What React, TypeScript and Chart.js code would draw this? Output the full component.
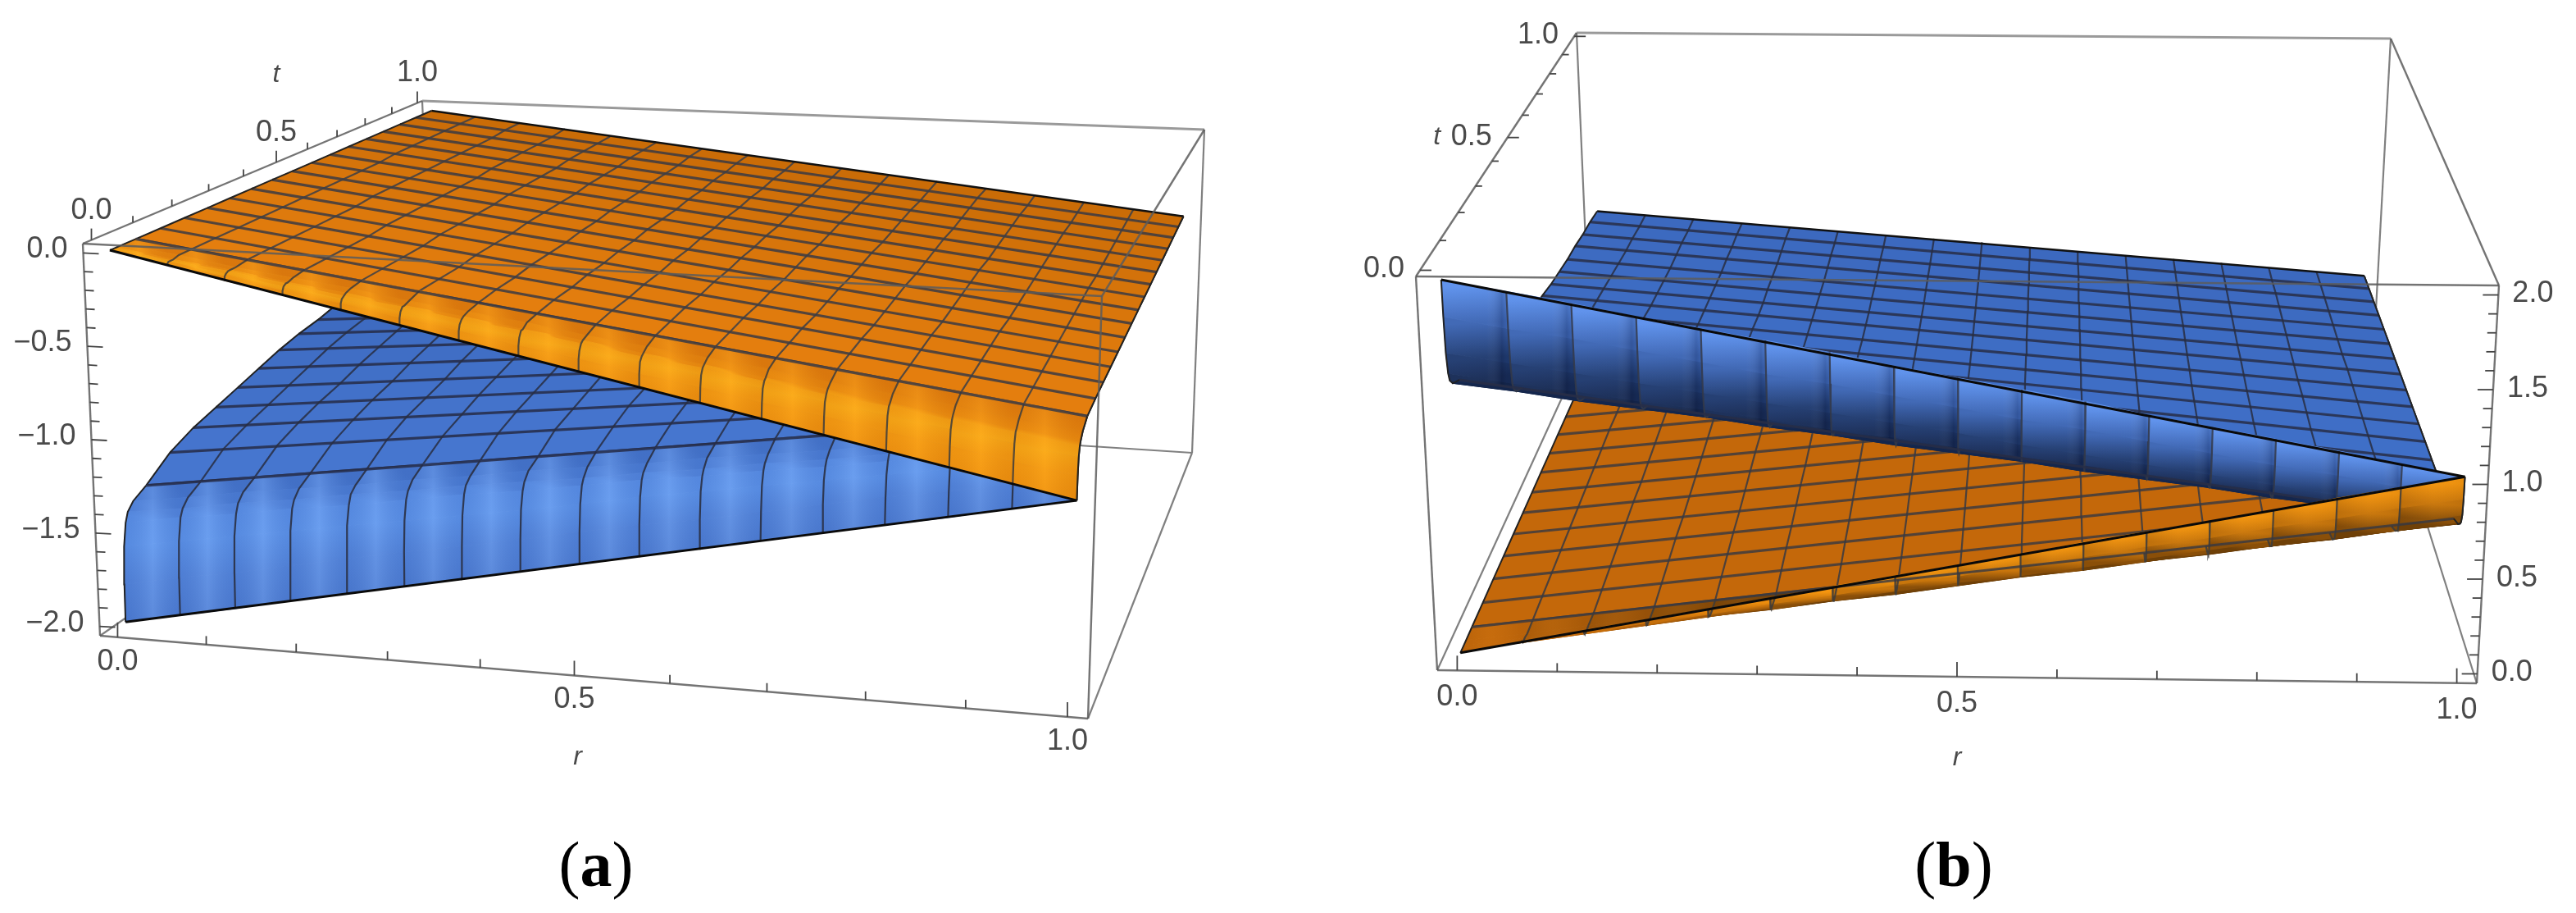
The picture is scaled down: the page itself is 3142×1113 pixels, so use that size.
import React, { useEffect, useRef } from "react";
import { Chart, registerables } from "chart.js";

Chart.register(...registerables);

const W = 3142;
const H = 1113;

// parameter grids shared by the surfaces
const rValues = [0, .0625, .125, .1875, .25, .3125, .375, .4375, .5, .5625, .625, .6875, .75, .8125, .875, .9375, 1];
const tValues = [0, .001, .004, .01, .016, .03, .0625, .125, .1875, .25, .3125, .375, .4375, .5, .5625, .625, .6875, .75, .8125, .875, .9375, 1];

// panel (a): upper surface (orange), one row per t value, one column per r value
const orangeA = [
  [0,-.06,-.13,-.19,-.25,-.31,-.38,-.44,-.5,-.56,-.63,-.69,-.75,-.81,-.88,-.94,-1],
  [0,-.06,-.11,-.17,-.22,-.28,-.33,-.39,-.44,-.5,-.55,-.61,-.66,-.72,-.77,-.83,-.88],
  [0,-.05,-.10,-.15,-.20,-.25,-.30,-.35,-.40,-.44,-.49,-.54,-.59,-.64,-.69,-.74,-.79],
  [0,-.05,-.09,-.14,-.19,-.23,-.28,-.32,-.37,-.42,-.46,-.51,-.56,-.60,-.65,-.69,-.74],
  [0,-.05,-.09,-.14,-.18,-.23,-.27,-.32,-.36,-.41,-.45,-.50,-.54,-.59,-.63,-.68,-.72],
  [0,-.04,-.09,-.13,-.17,-.22,-.26,-.30,-.35,-.39,-.43,-.47,-.52,-.56,-.60,-.65,-.69],
  [0,-.04,-.08,-.12,-.16,-.20,-.25,-.29,-.33,-.37,-.41,-.45,-.49,-.53,-.57,-.61,-.655],
  [0,-.04,-.08,-.12,-.16,-.20,-.24,-.28,-.32,-.36,-.40,-.44,-.48,-.52,-.56,-.60,-.64],
  [0,-.04,-.08,-.12,-.16,-.20,-.24,-.28,-.32,-.35,-.39,-.43,-.47,-.51,-.55,-.59,-.63],
  [0,-.04,-.08,-.12,-.16,-.19,-.23,-.27,-.31,-.35,-.39,-.43,-.47,-.50,-.54,-.58,-.62],
  [0,-.04,-.08,-.11,-.15,-.19,-.23,-.27,-.31,-.34,-.38,-.42,-.46,-.50,-.53,-.57,-.61],
  [0,-.04,-.08,-.11,-.15,-.19,-.23,-.26,-.30,-.34,-.38,-.41,-.45,-.49,-.53,-.56,-.60],
  [0,-.04,-.07,-.11,-.15,-.18,-.22,-.26,-.30,-.33,-.37,-.41,-.44,-.48,-.52,-.55,-.59],
  [0,-.04,-.07,-.11,-.15,-.18,-.22,-.25,-.29,-.33,-.36,-.40,-.44,-.47,-.51,-.54,-.58],
  [0,-.04,-.07,-.11,-.14,-.18,-.21,-.25,-.29,-.32,-.36,-.39,-.43,-.46,-.50,-.53,-.57],
  [0,-.04,-.07,-.11,-.14,-.18,-.21,-.25,-.28,-.32,-.35,-.39,-.42,-.46,-.49,-.53,-.56],
  [0,-.03,-.07,-.10,-.14,-.17,-.21,-.24,-.28,-.31,-.34,-.38,-.41,-.45,-.48,-.52,-.55],
  [0,-.03,-.07,-.10,-.14,-.17,-.20,-.24,-.27,-.30,-.34,-.37,-.41,-.44,-.47,-.51,-.54],
  [0,-.03,-.07,-.10,-.13,-.17,-.20,-.23,-.27,-.30,-.33,-.36,-.40,-.43,-.46,-.50,-.53],
  [0,-.03,-.07,-.10,-.13,-.16,-.20,-.23,-.26,-.29,-.33,-.36,-.39,-.42,-.46,-.49,-.52],
  [0,-.03,-.06,-.10,-.13,-.16,-.19,-.22,-.26,-.29,-.32,-.35,-.38,-.42,-.45,-.48,-.51],
  [0,-.03,-.06,-.09,-.13,-.16,-.19,-.22,-.25,-.28,-.31,-.34,-.38,-.41,-.44,-.47,-.50],
];

// panel (a): lower surface (blue)
const blueA = [
  [-2,-1.94,-1.88,-1.81,-1.75,-1.69,-1.63,-1.56,-1.5,-1.44,-1.38,-1.31,-1.25,-1.19,-1.13,-1.06,-1],
  [-1.8,-1.74,-1.69,-1.63,-1.57,-1.51,-1.46,-1.40,-1.34,-1.28,-1.23,-1.17,-1.11,-1.05,-1.0,-.94,-.88],
  [-1.6,-1.55,-1.5,-1.45,-1.4,-1.35,-1.30,-1.25,-1.2,-1.14,-1.09,-1.04,-.99,-.94,-.89,-.84,-.79],
  [-1.48,-1.43,-1.39,-1.34,-1.30,-1.25,-1.20,-1.16,-1.11,-1.06,-1.02,-.97,-.93,-.88,-.83,-.79,-.74],
  [-1.43,-1.39,-1.34,-1.30,-1.25,-1.21,-1.16,-1.12,-1.08,-1.03,-.99,-.94,-.90,-.85,-.81,-.76,-.72],
  [-1.39,-1.35,-1.30,-1.26,-1.22,-1.17,-1.13,-1.08,-1.04,-1.0,-.95,-.91,-.87,-.82,-.78,-.73,-.69],
  [-1.35,-1.31,-1.26,-1.22,-1.18,-1.13,-1.09,-1.05,-1.0,-.96,-.92,-.87,-.83,-.79,-.74,-.70,-.655],
  [-1.25,-1.21,-1.17,-1.14,-1.10,-1.06,-1.02,-.98,-.95,-.91,-.87,-.83,-.79,-.75,-.72,-.68,-.64],
  [-1.19,-1.16,-1.12,-1.09,-1.05,-1.02,-.98,-.95,-.91,-.88,-.84,-.81,-.77,-.74,-.70,-.67,-.63],
  [-1.15,-1.12,-1.08,-1.05,-1.02,-.98,-.95,-.92,-.89,-.85,-.82,-.79,-.75,-.72,-.69,-.65,-.62],
  [-1.11,-1.08,-1.05,-1.02,-.99,-.95,-.92,-.89,-.86,-.83,-.80,-.77,-.74,-.70,-.67,-.64,-.61],
  [-1.07,-1.04,-1.01,-.98,-.95,-.92,-.89,-.86,-.84,-.81,-.78,-.75,-.72,-.69,-.66,-.63,-.60],
  [-1.03,-1.0,-.98,-.95,-.92,-.89,-.87,-.84,-.81,-.78,-.76,-.73,-.70,-.67,-.65,-.62,-.59],
  [-1,-.97,-.95,-.92,-.90,-.87,-.84,-.82,-.79,-.76,-.74,-.71,-.69,-.66,-.63,-.61,-.58],
  [-.98,-.95,-.92,-.90,-.87,-.85,-.82,-.80,-.77,-.75,-.72,-.70,-.67,-.65,-.62,-.60,-.57],
  [-.95,-.93,-.90,-.88,-.85,-.83,-.80,-.78,-.76,-.73,-.71,-.68,-.66,-.63,-.61,-.58,-.56],
  [-.93,-.91,-.88,-.86,-.84,-.81,-.79,-.76,-.74,-.72,-.69,-.67,-.65,-.62,-.60,-.57,-.55],
  [-.91,-.89,-.86,-.84,-.82,-.79,-.77,-.75,-.73,-.70,-.68,-.66,-.63,-.61,-.59,-.56,-.54],
  [-.90,-.87,-.85,-.83,-.80,-.78,-.76,-.74,-.71,-.69,-.67,-.64,-.62,-.60,-.58,-.55,-.53],
  [-.88,-.86,-.84,-.81,-.79,-.77,-.75,-.72,-.70,-.68,-.66,-.63,-.61,-.59,-.57,-.54,-.52],
  [-.87,-.84,-.82,-.80,-.78,-.75,-.73,-.71,-.69,-.67,-.64,-.62,-.60,-.58,-.55,-.53,-.51],
  [-.85,-.83,-.81,-.78,-.76,-.74,-.72,-.70,-.68,-.65,-.63,-.61,-.59,-.57,-.54,-.52,-.50],
];

// panel (b): lower surface (orange)
const orangeB = [
  [0,.06,.13,.19,.25,.31,.38,.44,.5,.56,.63,.69,.75,.81,.88,.94,1],
  [0,.06,.11,.17,.22,.28,.33,.39,.44,.5,.55,.61,.66,.72,.77,.83,.88],
  [0,.05,.10,.15,.20,.25,.30,.35,.40,.44,.49,.54,.59,.64,.69,.74,.79],
  [0,.05,.09,.14,.19,.23,.28,.32,.37,.42,.46,.51,.56,.60,.65,.69,.74],
  [0,.05,.09,.14,.18,.23,.27,.32,.36,.41,.45,.50,.54,.59,.63,.68,.72],
  [0,.04,.09,.13,.17,.22,.26,.30,.35,.39,.43,.47,.52,.56,.60,.65,.69],
  [0,.04,.08,.12,.16,.20,.25,.29,.33,.37,.41,.45,.49,.53,.57,.61,.655],
  [0,.04,.08,.12,.16,.20,.24,.28,.32,.36,.40,.44,.48,.52,.56,.60,.64],
  [0,.04,.08,.12,.16,.20,.24,.28,.32,.35,.39,.43,.47,.51,.55,.59,.63],
  [0,.04,.08,.12,.16,.19,.23,.27,.31,.35,.39,.43,.47,.50,.54,.58,.62],
  [0,.04,.08,.11,.15,.19,.23,.27,.31,.34,.38,.42,.46,.50,.53,.57,.61],
  [0,.04,.08,.11,.15,.19,.23,.26,.30,.34,.38,.41,.45,.49,.53,.56,.60],
  [0,.04,.07,.11,.15,.18,.22,.26,.30,.33,.37,.41,.44,.48,.52,.55,.59],
  [0,.04,.07,.11,.15,.18,.22,.25,.29,.33,.36,.40,.44,.47,.51,.54,.58],
  [0,.04,.07,.11,.14,.18,.21,.25,.29,.32,.36,.39,.43,.46,.50,.53,.57],
  [0,.04,.07,.11,.14,.18,.21,.25,.28,.32,.35,.39,.42,.46,.49,.53,.56],
  [0,.03,.07,.10,.14,.17,.21,.24,.28,.31,.34,.38,.41,.45,.48,.52,.55],
  [0,.03,.07,.10,.14,.17,.20,.24,.27,.30,.34,.37,.41,.44,.47,.51,.54],
  [0,.03,.07,.10,.13,.17,.20,.23,.27,.30,.33,.36,.40,.43,.46,.50,.53],
  [0,.03,.07,.10,.13,.16,.20,.23,.26,.29,.33,.36,.39,.42,.46,.49,.52],
  [0,.03,.06,.10,.13,.16,.19,.22,.26,.29,.32,.35,.38,.42,.45,.48,.51],
  [0,.03,.06,.09,.13,.16,.19,.22,.25,.28,.31,.34,.38,.41,.44,.47,.50],
];

// panel (b): upper surface (blue)
const blueB = [
  [2,1.94,1.88,1.81,1.75,1.69,1.63,1.56,1.5,1.44,1.38,1.31,1.25,1.19,1.13,1.06,1],
  [1.8,1.74,1.69,1.63,1.57,1.51,1.46,1.40,1.34,1.28,1.23,1.17,1.11,1.05,1.0,.94,.88],
  [1.6,1.55,1.5,1.45,1.4,1.35,1.30,1.25,1.2,1.14,1.09,1.04,.99,.94,.89,.84,.79],
  [1.48,1.43,1.39,1.34,1.30,1.25,1.20,1.16,1.11,1.06,1.02,.97,.93,.88,.83,.79,.74],
  [1.43,1.39,1.34,1.30,1.25,1.21,1.16,1.12,1.08,1.03,.99,.94,.90,.85,.81,.76,.72],
  [1.39,1.35,1.30,1.26,1.22,1.17,1.13,1.08,1.04,1.0,.95,.91,.87,.82,.78,.73,.69],
  [1.35,1.31,1.26,1.22,1.18,1.13,1.09,1.05,1.0,.96,.92,.87,.83,.79,.74,.70,.655],
  [1.25,1.21,1.17,1.14,1.10,1.06,1.02,.98,.95,.91,.87,.83,.79,.75,.72,.68,.64],
  [1.19,1.16,1.12,1.09,1.05,1.02,.98,.95,.91,.88,.84,.81,.77,.74,.70,.67,.63],
  [1.15,1.12,1.08,1.05,1.02,.98,.95,.92,.89,.85,.82,.79,.75,.72,.69,.65,.62],
  [1.11,1.08,1.05,1.02,.99,.95,.92,.89,.86,.83,.80,.77,.74,.70,.67,.64,.61],
  [1.07,1.04,1.01,.98,.95,.92,.89,.86,.84,.81,.78,.75,.72,.69,.66,.63,.60],
  [1.03,1.0,.98,.95,.92,.89,.87,.84,.81,.78,.76,.73,.70,.67,.65,.62,.59],
  [1,.97,.95,.92,.90,.87,.84,.82,.79,.76,.74,.71,.69,.66,.63,.61,.58],
  [.98,.95,.92,.90,.87,.85,.82,.80,.77,.75,.72,.70,.67,.65,.62,.60,.57],
  [.95,.93,.90,.88,.85,.83,.80,.78,.76,.73,.71,.68,.66,.63,.61,.58,.56],
  [.93,.91,.88,.86,.84,.81,.79,.76,.74,.72,.69,.67,.65,.62,.60,.57,.55],
  [.91,.89,.86,.84,.82,.79,.77,.75,.73,.70,.68,.66,.63,.61,.59,.56,.54],
  [.90,.87,.85,.83,.80,.78,.76,.74,.71,.69,.67,.64,.62,.60,.58,.55,.53],
  [.88,.86,.84,.81,.79,.77,.75,.72,.70,.68,.66,.63,.61,.59,.57,.54,.52],
  [.87,.84,.82,.80,.78,.75,.73,.71,.69,.67,.64,.62,.60,.58,.55,.53,.51],
  [.85,.83,.81,.78,.76,.74,.72,.70,.68,.65,.63,.61,.59,.57,.54,.52,.50],
];

// axis ticks
const rTicks = [0, .1, .2, .3, .4, .5, .6, .7, .8, .9, 1];
const tTicks = [0, .1, .2, .3, .4, .5, .6, .7, .8, .9, 1];
const zTicksA = [0, -.1, -.2, -.3, -.4, -.5, -.6, -.7, -.8, -.9, -1, -1.1, -1.2, -1.3, -1.4, -1.5, -1.6, -1.7, -1.8, -1.9, -2];
const zTicksB = [0, .1, .2, .3, .4, .5, .6, .7, .8, .9, 1, 1.1, 1.2, 1.3, 1.4, 1.5, 1.6, 1.7, 1.8, 1.9, 2];
const rLabels = ["0.0", "0.5", "1.0"];
const rLabelValues = [0, .5, 1];
const tLabels = ["0.0", "0.5", "1.0"];
const tLabelValues = [0, .5, 1];
const zLabelsA = ["0.0", "\u22120.5", "\u22121.0", "\u22121.5", "\u22122.0"];
const zLabelValuesA = [0, -.5, -1, -1.5, -2];
const zLabelsB = ["0.0", "0.5", "1.0", "1.5", "2.0"];
const zLabelValuesB = [0, .5, 1, 1.5, 2];

type P = { x: number; y: number };
const WALL_ROWS = 6; // rows 0..6 form the steep fold next to t = 0
const LAST = tValues.length - 1;
const NC = rValues.length - 1;

const sceneA = {
  corners: { A: [122, 775], B: [1327, 876], C: [101, 297], F: [1344, 361], D: [515, 123], E: [1469, 158], H: [530, 492], G: [1454, 552] },
  qr: 1.083, qt: .754, zLow: -2.05, zHigh: .05,
};
const sceneB = {
  corners: { A: [1753, 817], B: [3021, 833], C: [1727, 337], F: [3048, 348], D: [1923, 40], E: [2916, 47], H: [1939, 411], G: [2895, 432] },
  qr: 1, qt: .754, zLow: -.05, zHigh: 2.05,
};

function projector(s: typeof sceneA) {
  const c = s.corners;
  return (r: number, t: number, z: number): P => {
    let u = (r + .02) / 1.04;
    let w = (t + .02) / 1.04;
    u = u / (u + (1 - u) * s.qr);
    w = w / (w + (1 - w) * s.qt);
    const v = (z - s.zLow) / (s.zHigh - s.zLow);
    const tri = (i: number) => {
      const lo = (1 - w) * ((1 - u) * c.A[i] + u * c.B[i]) + w * ((1 - u) * c.H[i] + u * c.G[i]);
      const hi = (1 - w) * ((1 - u) * c.C[i] + u * c.F[i]) + w * ((1 - u) * c.D[i] + u * c.E[i]);
      return (1 - v) * lo + v * hi;
    };
    return { x: tri(0), y: tri(1) };
  };
}

const lerpHex = (a: string, b: string, f: number) => {
  const ch = (h: string, i: number) => parseInt(h.slice(1 + i * 2, 3 + i * 2), 16);
  const out = [0, 1, 2].map((i) => Math.round(ch(a, i) + (ch(b, i) - ch(a, i)) * f));
  return `rgb(${out[0]},${out[1]},${out[2]})`;
};

const poly = (pts: P[], color: any) => ({
  data: [...pts, pts[0]], showLine: true, fill: "shape", backgroundColor: color, borderColor: color,
  borderWidth: 1, pointRadius: 0, clip: false,
});
const line = (pts: P[], color: string, width: number) => ({
  data: pts, showLine: true, fill: false, borderColor: color, backgroundColor: color,
  borderWidth: width, pointRadius: 0, clip: false,
});

type Style = {
  wall: string[]; backNear: string; backFar: string; stripes: [number, string][];
  meshT: string; meshR: string; meshWall: string; fadeCols?: number;
};

function surface(ctx: CanvasRenderingContext2D, proj: any, table: number[][], st: Style) {
  const P3 = (i: number, c: number) => proj(rValues[c], tValues[i], table[i][c]);
  const back: any[] = [];
  const wall: any[] = [];
  for (let i = LAST - 1; i >= WALL_ROWS; i--) {
    const col = lerpHex(st.backNear, st.backFar, (i - WALL_ROWS) / (LAST - 1 - WALL_ROWS));
    back.push(poly([P3(i, 0), P3(i, NC), P3(i + 1, NC), P3(i + 1, 0)], col));
  }
  for (let i = WALL_ROWS; i < LAST; i++) {
    back.push(line([P3(i, 0), P3(i, NC)], st.meshT, 3.2));
  }
  for (let c = 1; c < NC; c++) {
    const pts: P[] = [];
    for (let i = WALL_ROWS; i <= LAST; i++) pts.push(P3(i, c));
    back.push(line(pts, st.meshR, 2.2));
  }
  back.push(line([P3(LAST, 0), P3(LAST, NC)], "#111", 2.6));
  for (const c of [0, NC]) {
    const pts: P[] = [];
    for (let i = WALL_ROWS; i <= LAST; i++) pts.push(P3(i, c));
    back.push(line(pts, "#222", 2));
  }
  const wallColor = (i: number, c: number) => {
    if (!st.fadeCols) return st.wall[i];
    return lerpHex(st.backNear, st.wall[i], Math.min(1, c / st.fadeCols));
  };
  for (let i = WALL_ROWS - 1; i >= 0; i--) {
    for (let c = 0; c < NC; c++) {
      const a = P3(i, c), b = P3(i, c + 1), d = P3(i + 1, c + 1), e = P3(i + 1, c);
      const g = ctx.createLinearGradient((a.x + b.x) / 2, (a.y + b.y) / 2, (d.x + e.x) / 2, (d.y + e.y) / 2);
      g.addColorStop(0, wallColor(i, c));
      g.addColorStop(1, wallColor(i + 1, c));
      wall.push(poly([a, b, d, e], g));
    }
  }
  for (let c = 0; c < NC; c++) {
    const left: P[] = [];
    const right: P[] = [];
    for (let i = 0; i <= WALL_ROWS; i++) {
      left.push(P3(i, c));
      right.unshift(P3(i, c + 1));
    }
    const g = ctx.createLinearGradient(left[0].x, 0, right[right.length - 1].x, 0);
    st.stripes.forEach(([o, k]) => g.addColorStop(o, k));
    const o = poly([...left, ...right], g);
    o.borderWidth = 0;
    wall.push(o);
  }
  for (let c = 1; c < NC; c++) {
    const pts: P[] = [];
    for (let i = 0; i <= WALL_ROWS; i++) pts.push(P3(i, c));
    wall.push(line(pts, st.meshWall, 2.2));
  }
  wall.push(line([P3(WALL_ROWS, 0), P3(WALL_ROWS, NC)], st.meshT, 3.2));
  const rim0: P[] = [];
  const rim1: P[] = [];
  for (let i = 0; i <= WALL_ROWS; i++) {
    rim0.push(P3(i, 0));
    rim1.push(P3(i, NC));
  }
  wall.push(line(rim0, "#222", 2), line(rim1, "#222", 2));
  wall.push(line([P3(0, 0), P3(0, NC)], "#0a0a0a", 3));
  return { back, wall };
}

function frame(proj: any, s: typeof sceneA) {
  const z0 = s.zLow, z1 = s.zHigh, a = -.02, b = 1.02;
  const e = (p: number[], q: number[]) => [proj(p[0], p[1], p[2]), proj(q[0], q[1], q[2])];
  const A = [a, a, z0], B = [b, a, z0], C = [a, a, z1], F = [b, a, z1];
  const D = [a, b, z1], E = [b, b, z1], H = [a, b, z0], G = [b, b, z0];
  const backE = [e(D, E), e(E, G), e(G, H), e(H, A), e(H, D), e(G, B)];
  const frontE = [e(C, F), e(F, E), e(F, B), e(A, B), e(A, C), e(C, D)];
  return {
    back: backE.map((p, i) => line(p, i === 0 ? "#9a9a9a" : "#808080", i === 0 ? 3 : 2.2)),
    front: frontE.map((p) => line(p, "rgba(92,92,92,.85)", 2.4)),
  };
}

function ticks(proj: any, values: number[], at: (v: number) => number[], dir: number[], majorEvery: number) {
  return values.map((v, i) => {
    const q = at(v);
    const base = proj(q[0], q[1], q[2]);
    const len = i % majorEvery === 0 ? 1 : .58;
    return line([base, { x: base.x + dir[0] * len, y: base.y + dir[1] * len }], "#444", 1.8);
  });
}

type Lbl = { text: string; x: number; y: number; align: CanvasTextAlign; italic?: boolean };

function buildAll(ctx: CanvasRenderingContext2D) {
  const pa = projector(sceneA);
  const pb = projector(sceneB as any);
  const orangeTopA: Style = {
    wall: ["#f2920f", "#f79a12", "#fba716", "#f9a014", "#f08e10", "#ea860f", "#e47e0e"],
    backNear: "#e47e0e", backFar: "#ca6c07",
    stripes: [[0, "rgba(90,40,0,.06)"], [.5, "rgba(255,200,60,.14)"], [1, "rgba(90,40,0,.08)"]],
    meshT: "rgba(52,56,70,.82)", meshR: "rgba(60,62,70,.85)", meshWall: "rgba(60,60,60,.85)",
  };
  const blueTopA: Style = {
    wall: ["#4d7dd6", "#5385de", "#5c93ec", "#5a90ea", "#5386e0", "#4c7ed8", "#4676cf"],
    backNear: "#4676cf", backFar: "#3560b2",
    stripes: [[0, "rgba(20,40,90,.08)"], [.5, "rgba(180,215,255,.16)"], [1, "rgba(20,40,90,.08)"]],
    meshT: "rgba(38,44,70,.85)", meshR: "rgba(40,46,66,.85)", meshWall: "rgba(42,48,66,.9)",
  };
  const orangeTopB: Style = {
    wall: ["#f6960f", "#c9760c", "#8a4f09", "#6f4007", "#6a3c07", "#6a3c07", "#6a3c07"],
    backNear: "#c4680a", backFar: "#c4680a", fadeCols: 5,
    stripes: [[0, "rgba(0,0,0,.06)"], [.5, "rgba(255,200,80,.04)"], [1, "rgba(0,0,0,.06)"]],
    meshT: "rgba(54,56,66,.8)", meshR: "rgba(56,58,66,.85)", meshWall: "rgba(60,60,60,.85)",
  };
  const blueTopB: Style = {
    wall: ["#5c90ec", "#3c65b4", "#1f3a6f", "#172b56", "#14264c", "#14264c", "#14264c"],
    backNear: "#4070c9", backFar: "#3c69bf",
    stripes: [[0, "rgba(255,255,255,.03)"], [.7, "rgba(255,255,255,.03)"], [.93, "rgba(0,0,20,.16)"], [1, "rgba(0,0,20,.05)"]],
    meshT: "rgba(40,46,70,.85)", meshR: "rgba(40,46,66,.85)", meshWall: "rgba(52,56,70,.85)",
  };

  const fa = frame(pa, sceneA);
  const fb = frame(pb, sceneB as any);
  const sOA = surface(ctx, pa, orangeA, orangeTopA);
  const sBA = surface(ctx, pa, blueA, blueTopA);
  const sOB = surface(ctx, pb, orangeB, orangeTopB);
  const sBB = surface(ctx, pb, blueB, blueTopB);

  const tickSets = [
    ...ticks(pa, rTicks, (v) => [v, -.02, -2.05], [0, -18], 5),
    ...ticks(pa, tTicks, (v) => [-.02, v, .05], [0, -14], 5),
    ...ticks(pa, zTicksA, (v) => [-.02, -.02, v], [19, 1], 5),
    ...ticks(pb, rTicks, (v) => [v, -.02, -.05], [0, -18], 5),
    ...ticks(pb, tTicks, (v) => [-.02, v, 2.05], [14, 0], 5),
    ...ticks(pb, zTicksB, (v) => [1.02, -.02, v], [-19, 0], 5),
  ];

  const painted = [
    ...fa.back, ...fb.back,
    ...sBA.back, ...sBA.wall, ...sOA.back, ...sOA.wall,
    ...sOB.back, ...sBB.back, ...sBB.wall, ...sOB.wall,
    ...fa.front, ...fb.front, ...tickSets,
  ];

  const labels: Lbl[] = [];
  const add = (text: string, p: P, dx: number, dy: number, align: CanvasTextAlign, italic = false) =>
    labels.push({ text, x: p.x + dx, y: p.y + dy, align, italic });
  rLabels.forEach((s, i) => add(s, pa(rLabelValues[i], -.02, -2.05), 0, 30, "center"));
  tLabels.forEach((s, i) => add(s, pa(-.02, tLabelValues[i], .05), 0, -36, "center"));
  zLabelsA.forEach((s, i) => add(s, pa(-.02, -.02, zLabelValuesA[i]), -19, -4, "right"));
  add("r", pa(.5, -.02, -2.05), 4, 100, "center", true);
  add("t", pa(-.02, .5, .05), 0, -107, "center", true);
  rLabels.forEach((s, i) => add(s, pb(rLabelValues[i], -.02, -.05), 0, 33, "center"));
  tLabels.forEach((s, i) => add(s, pb(-.02, tLabelValues[i], 2.05), -19, -1, "right"));
  zLabelsB.forEach((s, i) => add(s, pb(1.02, -.02, zLabelValuesB[i]), 17, -1, "left"));
  add("r", pb(.5, -.02, -.05), 0, 99, "center", true);
  add("t", pb(-.02, .5, 2.05), -86, -1, "center", true);

  return { datasets: painted.reverse(), labels };
}

export default function App() {
  const ref = useRef<HTMLCanvasElement>(null);
  useEffect(() => {
    document.body.style.margin = "0";
    const canvas = ref.current!;
    const ctx = canvas.getContext("2d")!;
    const { datasets, labels } = buildAll(ctx);
    const textPlugin = {
      id: "axisText",
      afterDatasetsDraw(chart: any) {
        const c = chart.ctx;
        c.save();
        c.fillStyle = "#4a4a4a";
        c.textBaseline = "middle";
        labels.forEach((l) => {
          c.font = l.italic ? 'italic 32px "Liberation Sans"' : '36px "Liberation Sans"';
          c.textAlign = l.align;
          c.fillText(l.text, l.x, l.y);
        });
        c.restore();
      },
    };
    const chart = new Chart(canvas, {
      type: "scatter",
      data: { datasets: datasets as any },
      plugins: [textPlugin],
      options: {
        animation: false,
        responsive: false,
        devicePixelRatio: 1,
        events: [],
        layout: { padding: 0 },
        plugins: { legend: { display: false }, tooltip: { enabled: false }, title: { display: false } },
        scales: {
          x: { type: "linear", min: 0, max: W, display: false },
          y: { type: "linear", min: 0, max: H, reverse: true, display: false },
        },
      } as any,
    });
    return () => chart.destroy();
  }, []);
  const caption: React.CSSProperties = {
    position: "absolute", top: 1008, width: 200, textAlign: "center",
    font: '78px "Liberation Serif"', color: "#000", lineHeight: "92px",
  };
  return (
    <div style={{ position: "relative", width: W, height: H, overflow: "hidden", background: "#fff" }}>
      <canvas ref={ref} width={W} height={H} style={{ display: "block", filter: "blur(0.7px)" }} />
      <div style={{ ...caption, left: 627 }}>(<b>a</b>)</div>
      <div style={{ ...caption, left: 2283 }}>(<b>b</b>)</div>
    </div>
  );
}
